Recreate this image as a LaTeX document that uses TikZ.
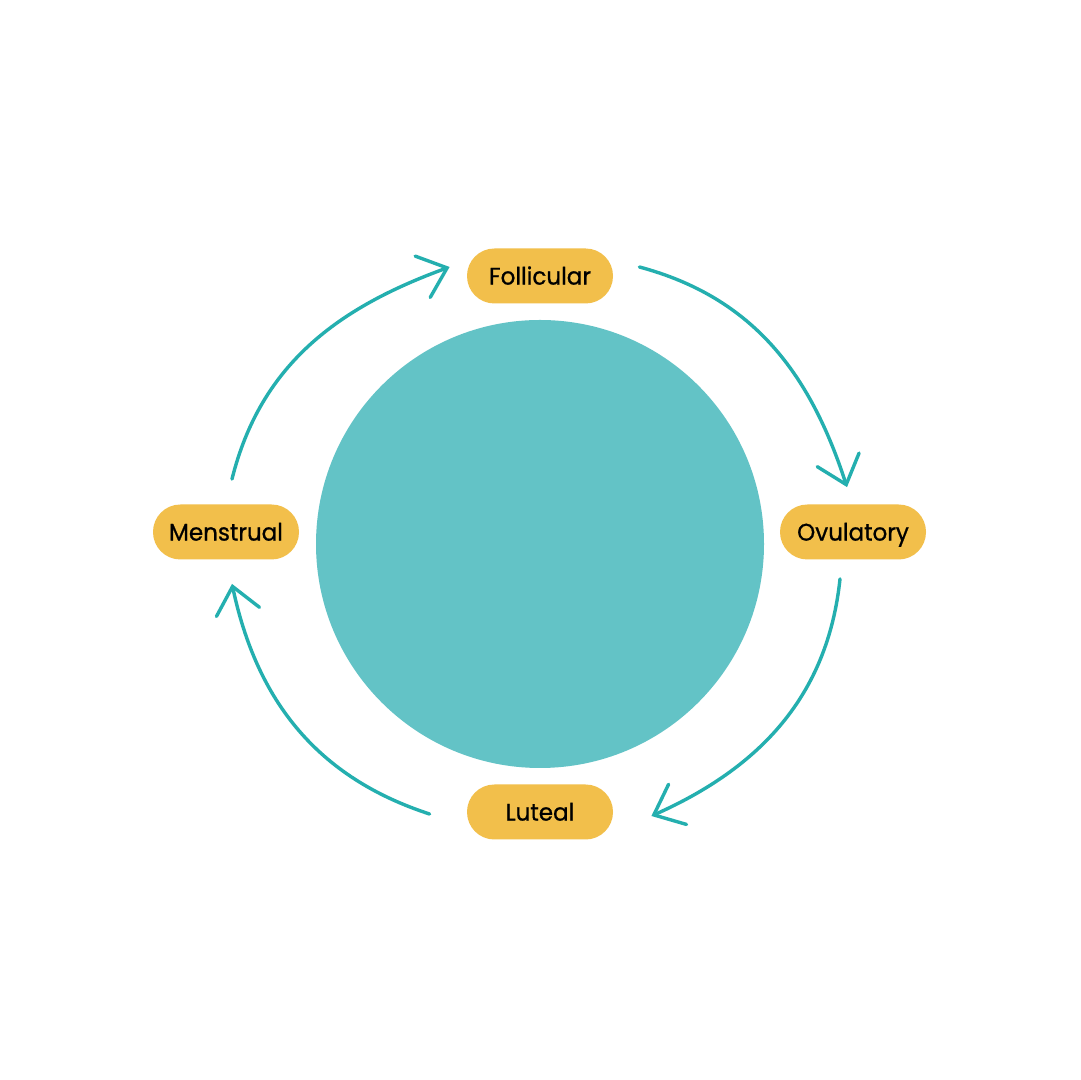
\documentclass[tikz,border=0pt]{standalone}
\usepackage{fontspec}
\setmainfont{Poppins}[FakeBold=0.8,FakeStretch=0.96]
\usetikzlibrary{arrows.meta}
\definecolor{teal1}{HTML}{24AFAF}
\definecolor{disc}{HTML}{63C3C6}
\definecolor{pill}{HTML}{F2BF4B}
\tikzset{
  phase/.style={fill=pill, rounded corners=13.7pt, minimum width=73pt, minimum height=27.5pt, inner sep=0pt, font=\fontsize{12}{14}\selectfont, text=black, text height=8.6pt, text depth=0pt},
  flow/.style={draw=teal1, line width=1.7pt, line cap=round, -{Straight Barb[length=13pt,width=22pt,line width=1.7pt,line cap=round]}}
}
\begin{document}
\begin{tikzpicture}[x=0.5pt,y=0.5pt]
\useasboundingbox[fill=white] (0,0) rectangle (1080,1080);
\fill[disc] (540,536) circle[radius=224];
\node[phase] (fol) at (540,804) {Follicular};
\node[phase] (men) at (226,548) {Menstrual};
\node[phase] (ovu) at (853,548) {Ovulatory};
\node[phase] (lut) at (540,268) {Luteal};
\coordinate (a1) at ([shift={(6,25)}]men.north);
\coordinate (b1) at ([shift={(-17,9)}]fol.west);
\coordinate (a2) at ([shift={(26,9)}]fol.east);
\coordinate (b2) at ([shift={(-6,17)}]ovu.north);
\coordinate (a3) at ([shift={(-13,-19)}]ovu.south);
\coordinate (b3) at ([shift={(38,-4)}]lut.east);
\coordinate (a4) at ([shift={(-37,-2)}]lut.west);
\coordinate (b4) at ([shift={(6,-24)}]men.south);
\draw[flow] (a1) to[out=76,in=200] (b1);
\draw[flow] (a2) to[out=-15,in=108] (b2);
\draw[flow] (a3) to[out=-96,in=24] (b3);
\draw[flow] (a4) to[out=162,in=-78] (b4);
\end{tikzpicture}
\end{document}
